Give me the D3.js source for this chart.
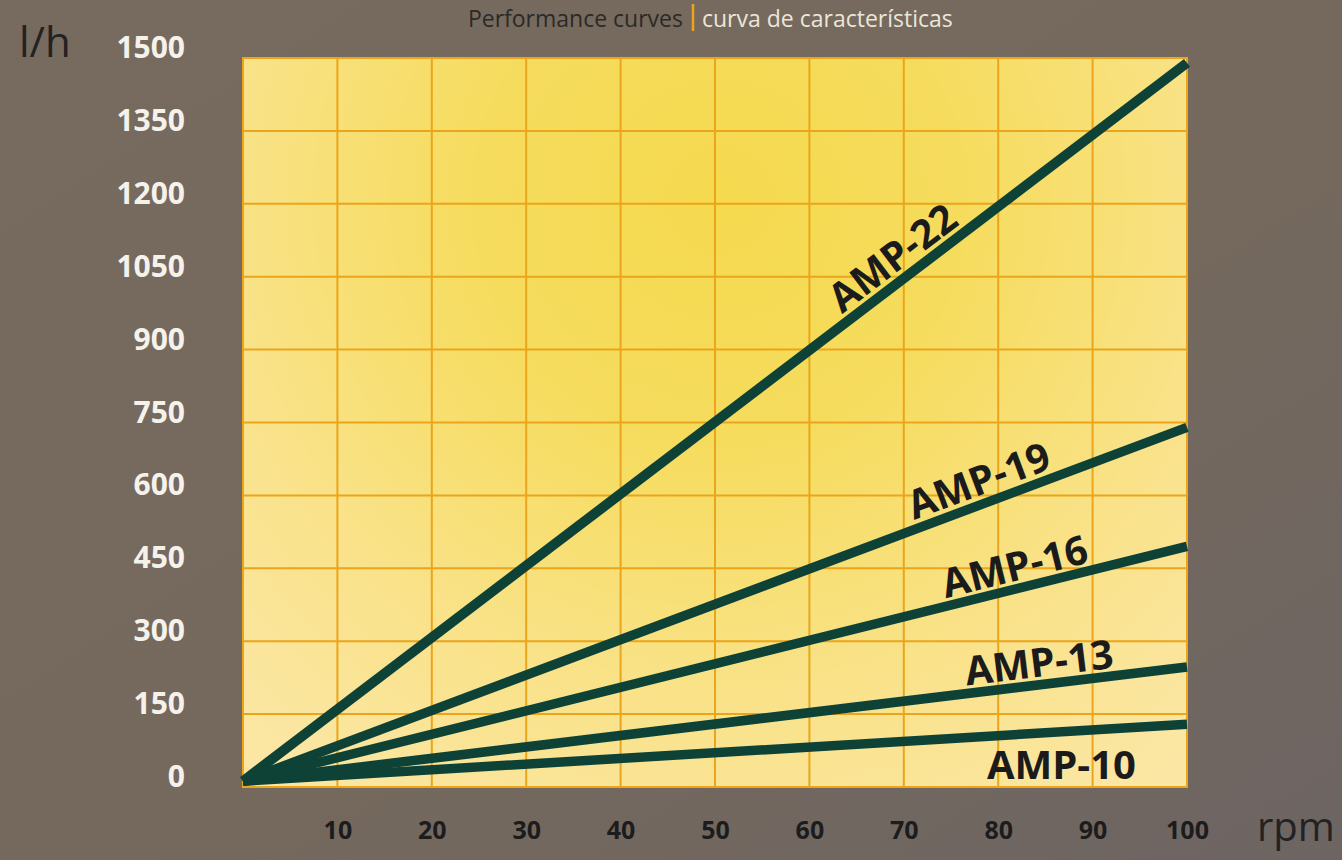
<!DOCTYPE html>
<html>
<head>
<meta charset="utf-8">
<script src="https://cdn.jsdelivr.net/npm/d3@7"></script>
<style>
  html, body { margin: 0; padding: 0; background: #74685e; }
  svg { display: block; }
</style>
</head>
<body>
<svg id="chart" width="1342" height="860"></svg>
<script>
// ---------------- data ----------------
const rpmValues = [0, 100];
const seriesNames = ["AMP-10", "AMP-13", "AMP-16", "AMP-19", "AMP-22"];
const amp10 = [12, 129];
const amp13 = [12, 247];
const amp16 = [12, 495];
const amp19 = [12, 740];
const amp22 = [12, 1490];
const xTicks = [10, 20, 30, 40, 50, 60, 70, 80, 90, 100];
const yTicks = [0, 150, 300, 450, 600, 750, 900, 1050, 1200, 1350, 1500];
const yUnit = "l/h";
const xUnit = "rpm";
const titleLeft = "Performance curves";
const titleRight = "curva de características";

(function () {
const seriesValues = [amp10, amp13, amp16, amp19, amp22];
// label anchor (rpm along the line), side offset
const labelAt = [86.7, 84.6, 82.3, 78.8, 70.3];
const labelOffset = [33, -22, -22, -23, -23];
const labelRotate = [false, true, true, true, true];

// ---------------- layout ----------------
const svg = d3.select("#chart");
const W = 1342, H = 860;
const pLeft = 243, pRight = 1187, pTop = 58, pBottom = 787;

const x = d3.scaleLinear().domain([0, 100]).range([pLeft, pRight]);
const y = d3.scaleLinear().domain([0, 1500]).range([pBottom, pTop]);

const defs = svg.append("defs");
const bg = defs.append("linearGradient").attr("id", "bg").attr("x1", 0).attr("y1", 0).attr("x2", 1).attr("y2", 1);
bg.append("stop").attr("offset", "0%").attr("stop-color", "#776a5e");
bg.append("stop").attr("offset", "55%").attr("stop-color", "#75695d");
bg.append("stop").attr("offset", "100%").attr("stop-color", "#6d6563");

const pf = defs.append("radialGradient").attr("id", "pf")
  .attr("gradientUnits", "userSpaceOnUse")
  .attr("cx", 720).attr("cy", 200).attr("r", 820);
pf.append("stop").attr("offset", "0%").attr("stop-color", "#f5d94e");
pf.append("stop").attr("offset", "30%").attr("stop-color", "#f6dc5e");
pf.append("stop").attr("offset", "60%").attr("stop-color", "#f9e288");
pf.append("stop").attr("offset", "85%").attr("stop-color", "#fbe6a2");
pf.append("stop").attr("offset", "100%").attr("stop-color", "#fbe7a8");

svg.append("rect").attr("width", W).attr("height", H).attr("fill", "url(#bg)");

// title
const tg = svg.append("g").attr("font-family", "'Open Sans', sans-serif").attr("font-size", 23);
tg.append("text").attr("x", 683).attr("y", 27).attr("text-anchor", "end")
  .attr("fill", "#2a2a28").text(titleLeft);
tg.append("line").attr("x1", 693).attr("x2", 693).attr("y1", 4).attr("y2", 31)
  .attr("stroke", "#f0a21c").attr("stroke-width", 2.5);
tg.append("text").attr("x", 702).attr("y", 27).attr("text-anchor", "start")
  .attr("fill", "#ebe6da").text(titleRight);

// plot background
svg.append("rect").attr("x", pLeft).attr("y", pTop)
  .attr("width", pRight - pLeft).attr("height", pBottom - pTop)
  .attr("fill", "url(#pf)");

// grid
const grid = svg.append("g").attr("stroke", "#eba51a").attr("stroke-width", 2);
grid.selectAll("line.v").data(xTicks.slice(0, -1)).join("line").attr("class", "v")
  .attr("x1", d => x(d)).attr("x2", d => x(d)).attr("y1", pTop).attr("y2", pBottom);
grid.selectAll("line.h").data(yTicks.slice(1, -1)).join("line").attr("class", "h")
  .attr("x1", pLeft).attr("x2", pRight).attr("y1", d => y(d)).attr("y2", d => y(d));
svg.append("rect").attr("x", pLeft).attr("y", pTop)
  .attr("width", pRight - pLeft).attr("height", pBottom - pTop)
  .attr("fill", "none").attr("stroke", "#eba51a").attr("stroke-width", 2);

// y axis labels
const yAxis = d3.axisLeft(y).tickValues(yTicks).tickFormat(d3.format("d")).tickSize(0).tickPadding(0);
const yg = svg.append("g").attr("transform", `translate(${185},0)`).call(yAxis);
yg.select(".domain").remove();
yg.selectAll("text")
  .attr("font-family", "'Open Sans', sans-serif").attr("font-size", 30).attr("font-weight", 700)
  .attr("fill", "#f5f2ec").attr("dy", "0.35em")
  .attr("transform", "translate(0,-11)");

// x axis labels
const xAxis = d3.axisBottom(x).tickValues(xTicks).tickFormat(d3.format("d")).tickSize(0).tickPadding(0);
const xg = svg.append("g").attr("transform", `translate(0,${830})`).call(xAxis);
xg.select(".domain").remove();
xg.selectAll("text")
  .attr("font-family", "'Open Sans', sans-serif").attr("font-size", 25).attr("font-weight", 700)
  .attr("fill", "#1c1c1c").attr("dy", "0.35em").attr("y", 0);

// units
svg.append("text").attr("x", 19).attr("y", 57)
  .attr("font-family", "'Open Sans', sans-serif").attr("font-size", 42)
  .attr("fill", "#222").text(yUnit);
svg.append("text").attr("x", 1257).attr("y", 841)
  .attr("font-family", "'Open Sans', sans-serif").attr("font-size", 40)
  .attr("fill", "#222").text(xUnit);

// lines
const line = d3.line().x(d => x(d[0])).y(d => y(d[1]));
const series = seriesNames.map((name, i) => ({
  name, pts: rpmValues.map((r, j) => [r, seriesValues[i][j]])
}));
svg.append("g").selectAll("path").data(series).join("path")
  .attr("d", d => line(d.pts))
  .attr("fill", "none").attr("stroke", "#0e4237")
  .attr("stroke-width", (d, i) => i === 4 ? 10 : 9.5)
  .attr("stroke-linecap", "butt");

// labels
const lg = svg.append("g");
series.forEach((s, i) => {
  const [p0, p1] = s.pts;
  const ang = Math.atan2(y(p1[1]) - y(p0[1]), x(p1[0]) - x(p0[0])) * 180 / Math.PI;
  const r = labelAt[i];
  const v = p0[1] + (p1[1] - p0[1]) * (r - p0[0]) / (p1[0] - p0[0]);
  const rot = labelRotate[i] ? ang : 0;
  lg.append("text")
    .attr("transform", `translate(${x(r)},${y(v)}) rotate(${rot}) translate(0,${labelOffset[i]})`)
    .attr("text-anchor", "middle").attr("dy", "0.35em")
    .attr("font-family", "'Open Sans', sans-serif").attr("font-size", 40).attr("font-weight", 700)
    .attr("fill", "#1b1b1b").text(s.name);
});
})();
</script>
</body>
</html>
